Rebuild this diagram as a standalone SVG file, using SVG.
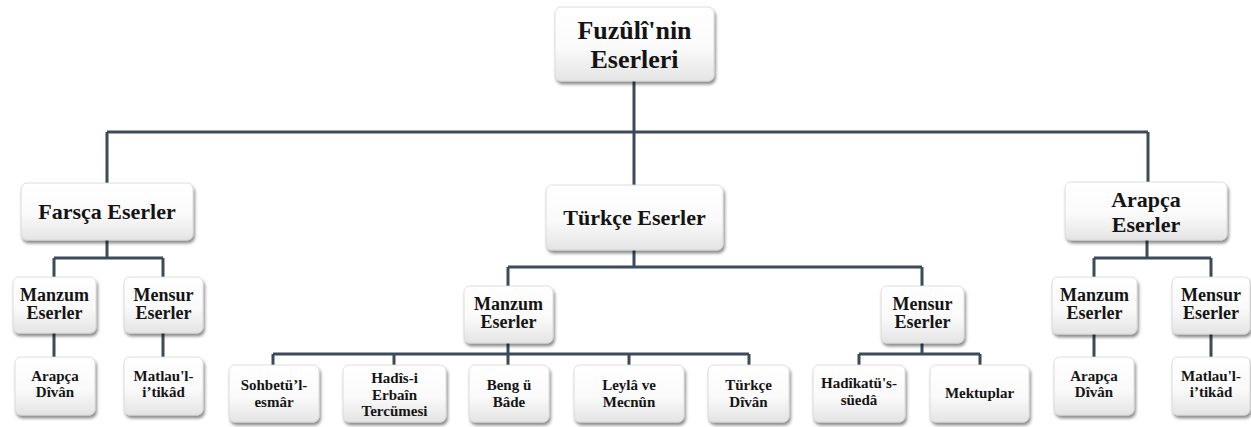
<svg xmlns="http://www.w3.org/2000/svg" width="1251" height="427" viewBox="0 0 1251 427">
<style>
.box{fill:url(#g);stroke:#d6d6d6;stroke-width:0.8;filter:url(#sh)}
.c{fill:none;stroke:#3d4a5c;stroke-width:3}
text{font-family:"Liberation Serif","Times New Roman",serif;font-weight:bold;fill:#141414;text-anchor:middle}
.t1{font-size:26px}
.t2{font-size:22px}
.t3{font-size:18px}
.t4{font-size:15px}
</style>
<defs>
<linearGradient id="g" x1="0" y1="0" x2="0" y2="1">
<stop offset="0" stop-color="#ffffff"/>
<stop offset="0.55" stop-color="#fafafa"/>
<stop offset="1" stop-color="#e4e4e4"/>
</linearGradient>
<filter id="sh" x="-20%" y="-20%" width="140%" height="150%">
<feDropShadow dx="1.5" dy="3" stdDeviation="1.8" flood-color="#000" flood-opacity="0.45"/>
</filter>
</defs>
<g id="connectors">
<path class="c" d="M634 81V132M107 132H1148M107 132V183M634 132V185M1148 132V182"/>
<path class="c" d="M107 240V258M54 258H163M54 258V277M163 258V277M54 333V357M163 333V357"/>
<path class="c" d="M634 250V267M508 267H922M508 267V286M922 267V286"/>
<path class="c" d="M508 343V365M273 354H749M273 354V365M394 354V365M629 354V365M749 354V365"/>
<path class="c" d="M922 343V354M859 354H980M859 354V365M980 354V365"/>
<path class="c" d="M1147 240V258M1094 258H1211M1094 258V277M1211 258V277M1094 334V357M1211 334V357"/>
</g>
<g id="root"><rect class="box" x="555" y="7" width="159" height="74" rx="6"/><text class="t1" x="634.5" y="39">Fuzûlî'nin</text><text class="t1" x="634.5" y="68">Eserleri</text></g>
<g id="farsca"><rect class="box" x="21" y="183" width="172" height="57" rx="6"/><text class="t2" x="107" y="219">Farsça Eserler</text></g>
<g id="turkce"><rect class="box" x="546" y="185" width="177" height="65" rx="6"/><text class="t2" x="634.5" y="225">Türkçe Eserler</text></g>
<g id="arapca"><rect class="box" x="1065" y="182" width="162" height="58" rx="6"/><text class="t2" x="1146" y="207">Arapça</text><text class="t2" x="1146" y="232">Eserler</text></g>
<g id="f-manzum"><rect class="box" x="13" y="277" width="83" height="56" rx="6"/><text class="t3" x="54.5" y="301">Manzum</text><text class="t3" x="54.5" y="319">Eserler</text></g>
<g id="f-mensur"><rect class="box" x="124" y="277" width="79" height="56" rx="6"/><text class="t3" x="163.5" y="301">Mensur</text><text class="t3" x="163.5" y="319">Eserler</text></g>
<g id="f-arapca-divan"><rect class="box" x="15" y="357" width="80" height="58" rx="6"/><text class="t4" x="55" y="381">Arapça</text><text class="t4" x="55" y="397">Dîvân</text></g>
<g id="f-matlau"><rect class="box" x="124" y="357" width="79" height="58" rx="6"/><text class="t4" x="163.5" y="381">Matlau'l-</text><text class="t4" x="163.5" y="397">i’tikâd</text></g>
<g id="t-manzum"><rect class="box" x="464" y="286" width="89" height="57" rx="6"/><text class="t3" x="508.5" y="310">Manzum</text><text class="t3" x="508.5" y="328">Eserler</text></g>
<g id="t-mensur"><rect class="box" x="881" y="286" width="83" height="57" rx="6"/><text class="t3" x="922.5" y="310">Mensur</text><text class="t3" x="922.5" y="328">Eserler</text></g>
<g id="sohbetul"><rect class="box" x="229" y="365" width="90" height="57" rx="6"/><text class="t4" x="274" y="390">Sohbetü’l-</text><text class="t4" x="274" y="407">esmâr</text></g>
<g id="hadis"><rect class="box" x="343" y="365" width="103" height="57" rx="6"/><text class="t4" x="394.5" y="383">Hadîs-i</text><text class="t4" x="394.5" y="400">Erbaîn</text><text class="t4" x="394.5" y="416">Tercümesi</text></g>
<g id="beng"><rect class="box" x="469" y="365" width="80" height="57" rx="6"/><text class="t4" x="509" y="390">Beng ü</text><text class="t4" x="509" y="407">Bâde</text></g>
<g id="leyla"><rect class="box" x="574" y="365" width="110" height="57" rx="6"/><text class="t4" x="629" y="390">Leylâ ve</text><text class="t4" x="629" y="407">Mecnûn</text></g>
<g id="turkce-divan"><rect class="box" x="708" y="365" width="81" height="57" rx="6"/><text class="t4" x="748.5" y="390">Türkçe</text><text class="t4" x="748.5" y="407">Dîvân</text></g>
<g id="hadikatu"><rect class="box" x="813" y="365" width="92" height="57" rx="6"/><text class="t4" x="859" y="388">Hadîkatü's-</text><text class="t4" x="859" y="405">süedâ</text></g>
<g id="mektuplar"><rect class="box" x="930" y="365" width="99" height="57" rx="6"/><text class="t4" x="979.5" y="398">Mektuplar</text></g>
<g id="a-manzum"><rect class="box" x="1052" y="277" width="85" height="57" rx="6"/><text class="t3" x="1094.5" y="301">Manzum</text><text class="t3" x="1094.5" y="319">Eserler</text></g>
<g id="a-mensur"><rect class="box" x="1172" y="277" width="78" height="57" rx="6"/><text class="t3" x="1211" y="301">Mensur</text><text class="t3" x="1211" y="319">Eserler</text></g>
<g id="a-arapca-divan"><rect class="box" x="1054" y="357" width="80" height="58" rx="6"/><text class="t4" x="1094" y="381">Arapça</text><text class="t4" x="1094" y="397">Dîvân</text></g>
<g id="a-matlau"><rect class="box" x="1172" y="357" width="78" height="58" rx="6"/><text class="t4" x="1211" y="381">Matlau'l-</text><text class="t4" x="1211" y="397">i’tikâd</text></g>
</svg>
